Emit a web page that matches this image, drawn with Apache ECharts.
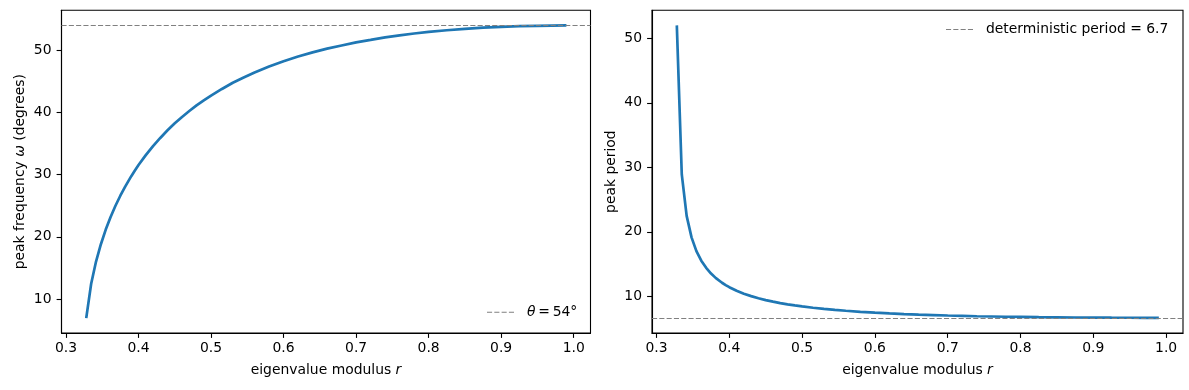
<!DOCTYPE html>
<html>
<head>
<meta charset="utf-8">
<script src="https://cdn.jsdelivr.net/npm/echarts@6/dist/echarts.min.js"></script>
<style>
html,body{margin:0;padding:0;background:#fff;}
#c{width:1189px;height:390px;}
</style>
</head>
<body>
<div id="c"></div>
<script>
// eigenvalue modulus r (x values)
const rVals = [0.3279, 0.3347, 0.3414, 0.3481, 0.3548, 0.3615, 0.3682, 0.3749, 0.3816, 0.390,
  0.395, 0.40, 0.41, 0.42, 0.43, 0.44, 0.45, 0.46, 0.47, 0.48, 0.49, 0.50, 0.515, 0.53, 0.545,
  0.56, 0.58, 0.60, 0.62, 0.64, 0.66, 0.68, 0.70, 0.72, 0.74, 0.76, 0.78, 0.80, 0.825, 0.85,
  0.875, 0.90, 0.925, 0.95, 0.97, 0.99];
// peak frequency in degrees
const omegaDeg = [6.92, 12.46, 16.02, 18.81, 21.16, 23.19, 24.99, 26.61, 28.08, 29.75,
  30.67, 31.54, 33.14, 34.60, 35.90, 37.13, 38.25, 39.28, 40.23, 41.14, 41.94, 42.72, 43.78, 44.78, 45.62,
  46.42, 47.38, 48.23, 48.99, 49.66, 50.26, 50.77, 51.28, 51.67, 52.07, 52.39, 52.70, 52.95, 53.22, 53.45,
  53.64, 53.78, 53.89, 53.94, 53.98, 54.00];
// peak period
const periodVals = [52.0, 28.89, 22.47, 19.14, 17.01, 15.52, 14.41, 13.53, 12.82, 12.10,
  11.74, 11.41, 10.86, 10.40, 10.03, 9.70, 9.41, 9.17, 8.95, 8.75, 8.58, 8.43, 8.22, 8.04, 7.89,
  7.76, 7.60, 7.46, 7.35, 7.25, 7.16, 7.09, 7.02, 6.97, 6.91, 6.87, 6.83, 6.80, 6.76, 6.74,
  6.71, 6.69, 6.68, 6.674, 6.669, 6.667];
const thetaDeg = 54;
const detPeriod = 6.67;
const xTicks = [0.3, 0.4, 0.5, 0.6, 0.7, 0.8, 0.9, 1.0];
const yTicksLeft = [10, 20, 30, 40, 50];
const yTicksRight = [10, 20, 30, 40, 50];

const FONT = 'DejaVu Sans';
const FS = 13.9;
const DASH = [5.1, 2.2];
const chart = echarts.init(document.getElementById('c'), null, {renderer: 'canvas'});

function xAxisCfg(gi) {
  return {
    type: 'value', gridIndex: gi, min: 0.2938, max: 1.0232,
    name: '{n|eigenvalue modulus }{i|r}', nameLocation: 'middle', nameGap: 30,
    nameTextStyle: {rich: {n: {fontFamily: FONT, fontSize: FS, color: '#000'}, i: {fontFamily: FONT, fontStyle: 'italic', fontSize: FS, color: '#000'}}},
    axisLine: {show: true, onZero: false, lineStyle: {color: '#000', width: 1.1}},
    axisTick: {show: true, length: 4.9, customValues: xTicks, lineStyle: {color: '#000', width: 1.1}},
    axisLabel: {show: true, customValues: xTicks, formatter: v => v.toFixed(1), fontFamily: FONT, fontSize: FS, color: '#000', margin: 8},
    splitLine: {show: false}
  };
}
function yAxisCfg(gi, min, max, ticks, name, gap) {
  return {
    type: 'value', gridIndex: gi, min: min, max: max,
    name: name, nameLocation: 'middle', nameGap: gap, nameRotate: 90,
    nameTextStyle: {fontFamily: FONT, fontSize: FS, color: '#000',
      rich: {n: {fontFamily: FONT, fontSize: FS, color: '#000'}, i: {fontFamily: FONT, fontStyle: 'italic', fontSize: FS, color: '#000'}}},
    axisLine: {show: true, onZero: false, lineStyle: {color: '#000', width: 1.1}},
    axisTick: {show: true, length: 4.9, customValues: ticks, lineStyle: {color: '#000', width: 1.1}},
    axisLabel: {show: true, customValues: ticks, formatter: v => String(Math.round(v)), fontFamily: FONT, fontSize: FS, color: '#000', margin: 10},
    splitLine: {show: false}
  };
}
function refLine(val) {
  return {
    silent: true, symbol: 'none', animation: false,
    label: {show: false},
    lineStyle: {color: '#808080', width: 1.1, type: DASH},
    data: [{yAxis: val}]
  };
}

const option = {
  animation: false,
  backgroundColor: '#fff',
  grid: [
    {left: 61.5, top: 10.3, width: 529, height: 322.7, show: true, borderColor: '#000', borderWidth: 1.1, backgroundColor: 'transparent'},
    {left: 652, top: 10.3, width: 531, height: 322.7, show: true, borderColor: '#000', borderWidth: 1.1, backgroundColor: 'transparent'}
  ],
  xAxis: [xAxisCfg(0), xAxisCfg(1)],
  yAxis: [
    yAxisCfg(0, 4.53, 56.43, yTicksLeft, '{n|peak frequency }{i|ω}{n| (degrees)}', 34),
    yAxisCfg(1, 4.31, 54.34, yTicksRight, '{n|peak period}', 34)
  ],
  series: [
    {type: 'line', xAxisIndex: 0, yAxisIndex: 0, showSymbol: false, symbol: 'none',
     data: rVals.map((r, i) => [r, omegaDeg[i]]),
     lineStyle: {color: '#1f77b4', width: 2.7}, itemStyle: {color: '#1f77b4'},
     markLine: refLine(thetaDeg)},
    {type: 'line', xAxisIndex: 1, yAxisIndex: 1, showSymbol: false, symbol: 'none',
     data: rVals.map((r, i) => [r, periodVals[i]]),
     lineStyle: {color: '#1f77b4', width: 2.7}, itemStyle: {color: '#1f77b4'},
     markLine: refLine(detPeriod)}
  ],
  graphic: [
    {type: 'line', shape: {x1: 487, y1: 312.3, x2: 515, y2: 312.3}, style: {stroke: '#808080', lineWidth: 1.1, lineDash: DASH}},
    {type: 'text', x: 527, y: 312.3, style: {
      text: '{i|θ}{n|\u2009=\u200954°}', verticalAlign: 'middle',
      rich: {i: {fontFamily: FONT, fontStyle: 'italic', fontSize: FS, fill: '#000'},
             n: {fontFamily: FONT, fontSize: FS, fill: '#000'}}}},
    {type: 'line', shape: {x1: 946, y1: 29.5, x2: 974, y2: 29.5}, style: {stroke: '#808080', lineWidth: 1.1, lineDash: DASH}},
    {type: 'text', x: 986, y: 29.5, style: {
      text: 'deterministic period = 6.7', verticalAlign: 'middle',
      fontFamily: FONT, fontSize: FS, fill: '#000'}}
  ]
};
chart.setOption(option);
</script>
</body>
</html>
